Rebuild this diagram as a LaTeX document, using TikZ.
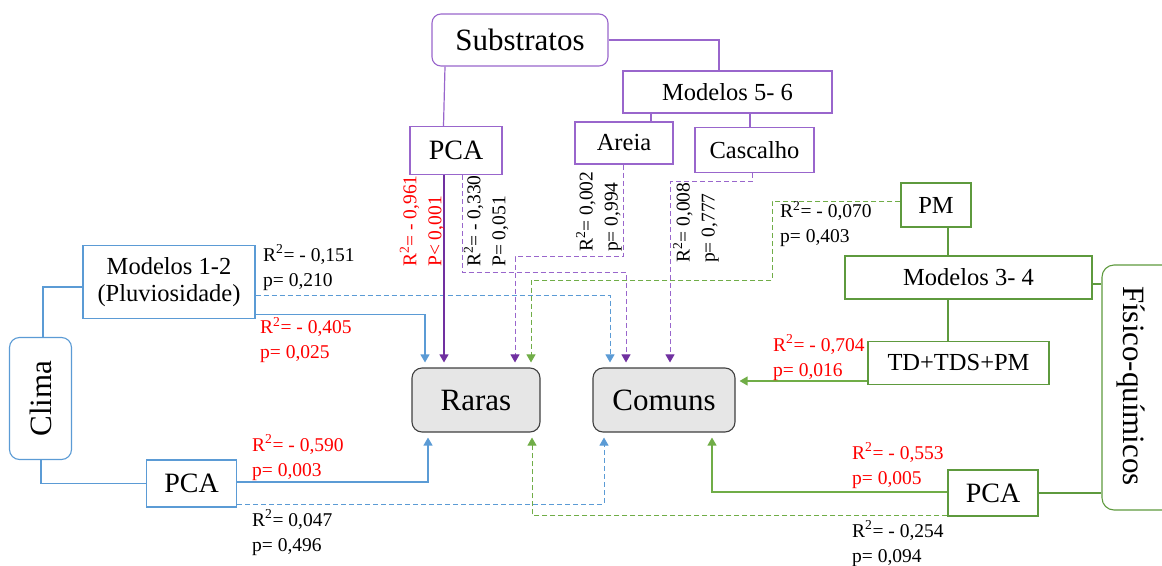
\documentclass[tikz,border=0pt]{standalone}
\usepackage{fontspec}
\setmainfont{Liberation Serif}
\usetikzlibrary{arrows.meta}
\definecolor{pur}{HTML}{7030A0}
\definecolor{purL}{HTML}{9966CC}
\definecolor{blu}{HTML}{5B9BD5}
\definecolor{grn}{HTML}{70AD47}
\definecolor{grnB}{HTML}{5E9A3E}
\definecolor{redt}{HTML}{FF0000}
\definecolor{grayF}{HTML}{E6E6E6}
\definecolor{grayB}{HTML}{404040}
\begin{document}
\begin{tikzpicture}[x=1pt,y=-1pt,
  box/.style={draw, line width=1.1pt, fill=white, inner sep=0pt, align=center},
  fa/.style={font=\fontsize{24.5}{27}\selectfont},
  fb/.style={font=\fontsize{28}{30}\selectfont},
  fc/.style={font=\fontsize{31}{33}\selectfont},
  lab/.style={font=\fontsize{19.5}{25}\selectfont, align=left, inner sep=0pt, anchor=west},
  rlab/.style={lab, rotate=90},
  arr/.style={-{Triangle[length=8pt,width=9pt]}, line width=1.2pt, shorten >=5pt},
  dsh/.style={dash pattern=on 5pt off 3pt, line width=1pt},
  tree/.style={line width=1.2pt},
]
\useasboundingbox (0,0) rectangle (1162,565);

% ---- Substratos group ----
\node[box, rounded corners=9pt, draw=purL, minimum width=176pt, minimum height=52pt, fc] (sub) at (520,40) {Substratos};
\node[box, draw=purL, minimum width=209pt, minimum height=42pt, fa] (m56) at (727.5,92) {Modelos 5- 6};
\node[box, draw=purL, minimum width=92pt, minimum height=48pt, fb] (pcaS) at (456,150.5) {PCA};
\node[box, draw=purL, minimum width=98pt, minimum height=42pt, fa] (areia) at (624,143) {Areia};
\node[box, draw=purL, minimum width=119pt, minimum height=45pt, fa] (casc) at (754.5,150) {Cascalho};

\draw[tree, purL] (sub.east) -| ([xshift=-8.5pt]m56.north);
\draw[tree, purL] ([xshift=-75pt]sub.south) -- ([xshift=-12.5pt]pcaS.north);
\draw[tree, purL] ([xshift=27pt]areia.north) -- ([xshift=27pt]areia.north |- m56.south);
\draw[tree, purL] ([xshift=-4.5pt]casc.north) -- ([xshift=-4.5pt]casc.north |- m56.south);

% ---- Fisico-quimicos group ----
\node[box, draw=grnB, minimum width=70pt, minimum height=44pt, fa] (pm) at (936,205) {PM};
\node[box, draw=grnB, minimum width=247pt, minimum height=43pt, fa] (m34) at (968.5,277.5) {Modelos 3- 4};
\node[box, draw=grnB, minimum width=181pt, minimum height=43pt, fa] (td) at (958.5,363) {TD+TDS+PM};
\node[box, draw=grnB, rounded corners=12pt, minimum width=80pt, minimum height=245pt] (fq) at (1142,387.5) {};
\node[fc, inner sep=0pt, rotate=-90] (fqt) at (1131,386) {Físico-químicos};
\node[box, draw=grnB, minimum width=90pt, minimum height=46pt, fb] (pcaF) at (993,493) {PCA};

\draw[tree, grnB] ([xshift=12pt]pm.south) -- ([xshift=12pt]pm.south |- m34.north);
\draw[tree, grnB] ([xshift=-10.5pt]td.north) -- ([xshift=-10.5pt]td.north |- m34.south);
\draw[tree, grnB] ([yshift=-6.5pt]m34.east) -- ([yshift=-6.5pt]m34.east -| fq.west);
\draw[tree, grnB] (pcaF.east) -- (pcaF.east -| fq.west);

% ---- Clima group ----
\node[box, draw=blu, rounded corners=10pt, minimum width=122pt, minimum height=62pt, fc, rotate=90] (clima) at (40.5,398.5) {Clima};
\node[box, draw=blu, minimum width=172pt, minimum height=73pt, fa] (m12) at (169,282) {Modelos 1-2\\(Pluviosidade)};
\node[box, draw=blu, minimum width=90pt, minimum height=47pt, fb] (pcaC) at (191.5,483.5) {PCA};

\draw[tree, blu] ([xshift=2.5pt]clima.east) |- ([yshift=-5pt]m12.west);
\draw[tree, blu] ([xshift=0.5pt]clima.west) |- (pcaC.west);

% ---- Response nodes ----
\node[box, draw=grayB, fill=grayF, rounded corners=10pt, minimum width=128pt, minimum height=64pt, fc] (raras) at (476,400) {Raras};
\node[box, draw=grayB, fill=grayF, rounded corners=10pt, minimum width=142pt, minimum height=64pt, fc] (comuns) at (664,400) {Comuns};

% ---- Connectors ----
% Clima
\draw[arr, blu] ([yshift=4.5pt]m12.south east) -| ([xshift=-51pt]raras.north);
\draw[arr, blu, dsh] ([yshift=-13pt]m12.east) -| ([xshift=-54pt]comuns.north);
\draw[arr, blu] ([yshift=1.5pt]pcaC.east) -| ([xshift=-48pt]raras.south);
\draw[arr, blu, dsh] ([yshift=-20.5pt]pcaC.east) -| ([xshift=-60pt]comuns.south);
% Substratos
\draw[arr, pur] ([xshift=-12pt]pcaS.south) -- ([xshift=-32pt]raras.north);
\draw[arr, purL, dsh, -{Triangle[length=8pt,width=9pt,color=pur]}] ([xshift=6pt]pcaS.south) -- ++(0,97.5) -| ([xshift=-38pt]comuns.north);
\draw[arr, purL, dsh, -{Triangle[length=8pt,width=9pt,color=pur]}] ([xshift=-1pt]areia.south) -- ++(0,92) -| ([xshift=39pt]raras.north);
\draw[arr, purL, dsh, -{Triangle[length=8pt,width=9pt,color=pur]}] ([xshift=-2.5pt]casc.south) -- ++(0,8.5) -| ([xshift=6pt]comuns.north);
% Fisico-quimicos
\draw[arr, grn, dsh] ([yshift=4pt]pm.west) -- ++(-128,0) -- ++(0,79) -| ([xshift=55pt]raras.north);
\draw[arr, grn, shorten >=4pt] ([yshift=-18pt]td.west) -- ([yshift=19pt]comuns.east);
\draw[arr, grn] ([yshift=1pt]pcaF.west) -| ([xshift=48pt]comuns.south);
\draw[arr, grn, dsh] ([yshift=-22pt]pcaF.west) -| ([xshift=56pt]raras.south);

% ---- Labels ----
\node[lab] (l151) at (263,267.5) {R\textsuperscript{2}= - 0,151\\p= 0,210};
\node[lab, text=redt] (l405) at (260,340) {R\textsuperscript{2}= - 0,405\\p= 0,025};
\node[lab, text=redt] (l590) at (252,457.5) {R\textsuperscript{2}= - 0,590\\p= 0,003};
\node[lab] (l047) at (252,532.5) {R\textsuperscript{2}= 0,047\\p= 0,496};
\node[lab, text=redt] (l704) at (773,357.5) {R\textsuperscript{2}= - 0,704\\p= 0,016};
\node[lab, text=redt] (l553) at (852,465.5) {R\textsuperscript{2}= - 0,553\\p= 0,005};
\node[lab] (l254) at (852,543.5) {R\textsuperscript{2}= - 0,254\\p= 0,094};
\node[lab] (l070) at (780,224) {R\textsuperscript{2}= - 0,070\\p= 0,403};
\node[rlab, text=redt] (l961) at (422,267) {R\textsuperscript{2}= - 0,961\\P< 0,001};
\node[rlab] (l330) at (486,267) {R\textsuperscript{2}= - 0,330\\P= 0,051};
\node[rlab] (l002) at (599,252) {R\textsuperscript{2}= 0,002\\p= 0,994};
\node[rlab] (l008) at (696,263) {R\textsuperscript{2}= 0,008\\p= 0,777};
\end{tikzpicture}
\end{document}
